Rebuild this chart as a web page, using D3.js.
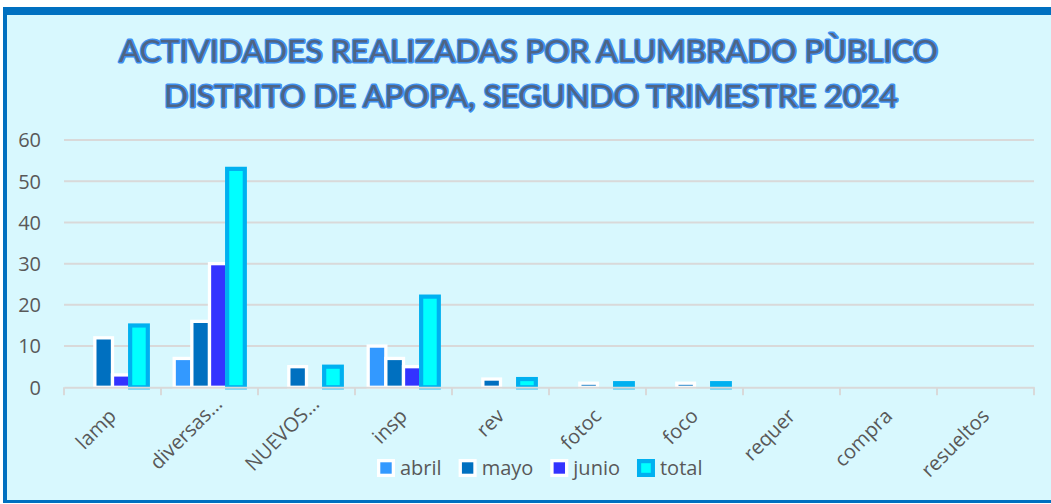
<!DOCTYPE html>
<html><head><meta charset="utf-8">
<script src="https://cdn.jsdelivr.net/npm/d3@7"></script>
<style>html,body{margin:0;padding:0;background:#fff;}svg{display:block;}</style>
</head><body>
<svg id="chart" width="1051" height="504"></svg>
<script>
const categories = ["lamp","diversas…","NUEVOS…","insp","rev","fotoc","foco","requer","compra","resueltos"];
const abril = [0,7,0,10,0,0,0,0,0,0];
const mayo  = [12,16,5,7,2,1,1,0,0,0];
const junio = [3,30,0,5,0,0,0,0,0,0];
const total = [15,53,5,22,2,1,1,0,0,0];
const seriesNames = ["abril","mayo","junio","total"];
const yTicks = [0,10,20,30,40,50,60];
const titleLines = ["ACTIVIDADES REALIZADAS POR ALUMBRADO PÙBLICO","DISTRITO DE APOPA, SEGUNDO TRIMESTRE 2024"];

const styles = [
  {fill:"#3399FF", stroke:"#FFFFFF", sw:3.3},
  {fill:"#0070C0", stroke:"#FFFFFF", sw:3.3},
  {fill:"#3333FF", stroke:"#FFFFFF", sw:3.3},
  {fill:"#00FFFF", stroke:"#00B0F0", sw:4.2}
];
const seriesData = [abril, mayo, junio, total];

const svg = d3.select("#chart");
const font = "'Open Sans', sans-serif";
const gray = "#595959";

// frame
svg.append("rect").attr("x",3).attr("y",7).attr("width",1048).attr("height",496).attr("fill","#0070C0");
svg.append("rect").attr("x",7).attr("y",15).attr("width",1044).attr("height",485).attr("fill","#D8F8FE");

// title
titleLines.forEach((t,i)=>{
  svg.append("text")
    .attr("x", i===0 ? 528.5 : 531).attr("y", i===0 ? 62 : 107)
    .attr("text-anchor","middle")
    .attr("font-family","Lato, 'Open Sans', sans-serif")
    .attr("font-size",30.5)
    .attr("textLength", i===0 ? 819 : 734)
    .attr("lengthAdjust","spacingAndGlyphs")
    .attr("fill","#4F6483")
    .attr("stroke","#3D8FF0").attr("stroke-width",3)
    .attr("paint-order","stroke")
    .attr("stroke-linejoin","round")
    .text(t);
});

const x = d3.scaleBand().domain(categories).range([64,1034]).padding(0);
const y = d3.scaleLinear().domain([0,60]).range([387.3,140]);

// gridlines
svg.append("g").selectAll("line").data(yTicks.filter(d=>d>0)).join("line")
  .attr("x1",64).attr("x2",1034)
  .attr("y1",d=>y(d)).attr("y2",d=>y(d))
  .attr("stroke","#D9D9D9").attr("stroke-width",2);

// y axis labels
const yAxis = d3.axisLeft(y).tickValues(yTicks).tickSize(0).tickPadding(0);
const gy = svg.append("g").attr("transform","translate(41,0)").call(yAxis);
gy.select(".domain").remove();
gy.selectAll("text").attr("font-family",font).attr("font-size",20).attr("fill",gray).attr("dy","0.34em").attr("x",0);

// bars
const step = x.bandwidth()*0.182;
seriesData.forEach((vals,si)=>{
  const st = styles[si];
  svg.append("g").selectAll("rect").data(categories.map((c,i)=>({c, v:vals[i]})).filter(d=>d.v>0)).join("rect")
    .attr("x", d=> x(d.c) + x.bandwidth()/2 + (si-1.5)*step - step/2)
    .attr("width", step)
    .attr("y", d=>y(d.v))
    .attr("height", d=>y(0)-y(d.v))
    .attr("fill", st.fill).attr("stroke", st.stroke).attr("stroke-width", st.sw);
});

// x axis
const xAxis = d3.axisBottom(x).tickSize(0).tickFormat(d=>d);
const gx = svg.append("g").attr("transform",`translate(0,${y(0)})`).call(xAxis);
gx.select(".domain").attr("stroke","#D9D9D9").attr("stroke-width",2);
gx.selectAll(".tick line").remove();
gx.selectAll("text")
  .attr("font-family",font).attr("font-size",20).attr("fill",gray)
  .attr("text-anchor","end")
  .attr("dy",0).attr("y",0)
  .attr("transform",function(d){
    const trunc = d.endsWith("…");
    return trunc ? `translate(14,18) rotate(-45)` : `translate(5,30) rotate(-45)`;
  });
// tick marks at band boundaries
const bounds = categories.map(c=>x(c)).concat([x.range()[1]]);
svg.append("g").selectAll("line").data(bounds).join("line")
  .attr("x1",d=>d).attr("x2",d=>d).attr("y1",y(0)).attr("y2",y(0)+8)
  .attr("stroke","#D9D9D9").attr("stroke-width",2);

// legend
const lg = svg.append("g");
let lx = 377;
seriesNames.forEach((n,i)=>{
  const st = styles[i];
  lg.append("rect").attr("x",lx+st.sw/2).attr("y",459+st.sw/2).attr("width",18-st.sw).attr("height",18-st.sw)
    .attr("fill",st.fill).attr("stroke",st.stroke).attr("stroke-width",st.sw);
  const t = lg.append("text").attr("x",lx+23).attr("y",475).attr("font-family",font).attr("font-size",20).attr("fill",gray).text(n);
  lx += 23 + t.node().getComputedTextLength() + 17;
});
</script>
</body></html>
